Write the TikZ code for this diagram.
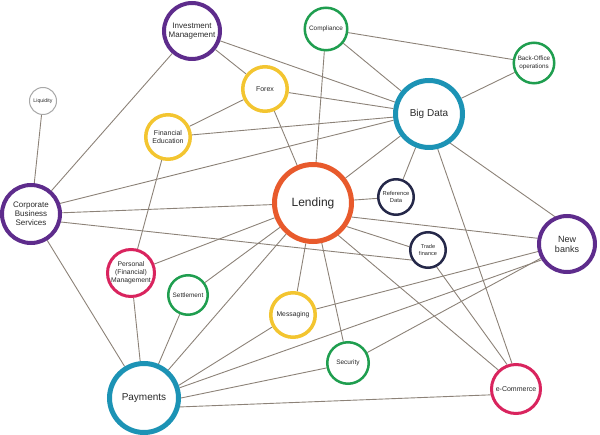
\documentclass[tikz,border=0pt]{standalone}
\usepackage{fontspec}
\setmainfont{Liberation Sans}
\usetikzlibrary{backgrounds}
\definecolor{cpurple}{HTML}{5E2C8C}
\definecolor{cyellow}{HTML}{F3C530}
\definecolor{cgreen}{HTML}{1F9E4F}
\definecolor{cteal}{HTML}{1C93B5}
\definecolor{corange}{HTML}{E85A2C}
\definecolor{ccrimson}{HTML}{D9245E}
\definecolor{cnavy}{HTML}{252849}
\definecolor{cgray}{HTML}{A8A8A8}
\definecolor{cedge}{HTML}{8C8278}
\definecolor{ctext}{HTML}{2A2A2A}
\tikzset{
  bub/.style={circle, draw, fill=white, inner sep=0pt, align=center, text=ctext},
  link/.style={draw=cedge, line width=0.9pt}
}
\begin{document}
\begin{tikzpicture}[x=1pt,y=-1pt]
\useasboundingbox (0,0) rectangle (600,435);
% nodes
\node[bub, draw=corange, line width=5pt, minimum size=77pt, font=\fontsize{12}{14}\selectfont] (lend) at (313,203) {Lending};
\node[bub, draw=cteal, line width=5pt, minimum size=67pt, font=\fontsize{10}{12}\selectfont] (bd) at (429,114) {Big Data};
\node[bub, draw=cteal, line width=5pt, minimum size=69pt, font=\fontsize{10}{12}\selectfont] (pay) at (144,398) {Payments};
\node[bub, draw=cpurple, line width=4pt, minimum size=56pt, font=\fontsize{8}{8.5}\selectfont] (im) at (192,31) {Investment\\Management};
\node[bub, draw=cpurple, line width=4pt, minimum size=58pt, font=\fontsize{8}{9}\selectfont] (cbs) at (31,214) {Corporate\\Business\\Services};
\node[bub, draw=cpurple, line width=4pt, minimum size=56pt, font=\fontsize{9}{10}\selectfont] (nb) at (567,244) {New\\banks};
\node[bub, draw=cyellow, line width=3.5pt, minimum size=44.5pt, font=\fontsize{7}{8}\selectfont] (forex) at (265,89) {Forex};
\node[bub, draw=cyellow, line width=3.5pt, minimum size=44.5pt, font=\fontsize{7}{8}\selectfont] (fe) at (168,137) {Financial\\Education};
\node[bub, draw=cyellow, line width=3.5pt, minimum size=44.5pt, font=\fontsize{6.8}{8}\selectfont] (msg) at (293,315) {Messaging};
\node[bub, draw=ccrimson, line width=3pt, minimum size=47pt, font=\fontsize{6.8}{8.2}\selectfont] (pm) at (131,273) {Personal\\(Financial)\\Management};
\node[bub, draw=ccrimson, line width=3pt, minimum size=49pt, font=\fontsize{7}{8}\selectfont] (ecom) at (516,389) {e-Commerce};
\node[bub, draw=cgreen, line width=2.5pt, minimum size=42.5pt, font=\fontsize{6.4}{7.5}\selectfont] (comp) at (326,29) {Compliance};
\node[bub, draw=cgreen, line width=2.5pt, minimum size=40.5pt, font=\fontsize{6.3}{7.3}\selectfont] (bo) at (534,63) {Back-Office\\operations};
\node[bub, draw=cgreen, line width=2.5pt, minimum size=39.5pt, font=\fontsize{6.4}{7.5}\selectfont] (set) at (188,295) {Settlement};
\node[bub, draw=cgreen, line width=2.5pt, minimum size=41.5pt, font=\fontsize{6.5}{7.5}\selectfont] (sec) at (348,363) {Security};
\node[bub, draw=cnavy, line width=2.5pt, minimum size=35.5pt, font=\fontsize{5.8}{6.7}\selectfont] (ref) at (396,197) {Reference\\Data};
\node[bub, draw=cnavy, line width=2.5pt, minimum size=35.5pt, font=\fontsize{5.6}{6.7}\selectfont] (tf) at (428,250) {Trade\\finance};
\node[bub, draw=cgray, line width=1pt, minimum size=27pt, font=\fontsize{5.2}{6}\selectfont] (liq) at (43,101) {Liquidity};
% connectors
\begin{scope}[on background layer]
\draw[link] (im) -- (forex);
\draw[link] (im) -- (bd);
\draw[link] (im) -- (cbs);
\draw[link] (forex) -- (bd);
\draw[link] (forex) -- (fe);
\draw[link] (forex) -- (lend);
\draw[link] (fe) -- (bd);
\draw[link] (fe) -- (pm);
\draw[link] (cbs) -- (liq);
\draw[link] (cbs.20) -- (bd.190);
\draw[link] (cbs) -- (lend);
\draw[link] (cbs.-15) -- (tf.212);
\draw[link] (cbs) -- (pay);
\draw[link] (comp) -- (bo);
\draw[link] (comp) -- (bd);
\draw[link] (comp) -- (lend);
\draw[link] (bo) -- (bd);
\draw[link] (bd) -- (lend);
\draw[link] (bd) -- (ref);
\draw[link] (bd.-76) -- (ecom.99);
\draw[link] (bd.-54) -- (nb.114);
\draw[link] (lend) -- (ref);
\draw[link] (lend.-20) -- (nb.169);
\draw[link] (lend.-35) -- (tf.170);
\draw[link] (lend.-52) -- (ecom.133);
\draw[link] (lend) -- (sec);
\draw[link] (lend) -- (msg);
\draw[link] (lend) -- (pay);
\draw[link] (lend) -- (set);
\draw[link] (lend) -- (pm);
\draw[link] (tf.-63) -- (ecom.110);
\draw[link] (nb) -- (msg);
\draw[link] (pay.16) -- (nb.212);
\draw[link] (nb) -- (sec);
\draw[link] (pay.20) -- (msg.210);
\draw[link] (pay.0) -- (sec.193);
\draw[link] (pay.-14) -- (ecom.193);
\draw[link] (pay) -- (set);
\draw[link] (pay) -- (pm);
\end{scope}
\end{tikzpicture}
\end{document}
